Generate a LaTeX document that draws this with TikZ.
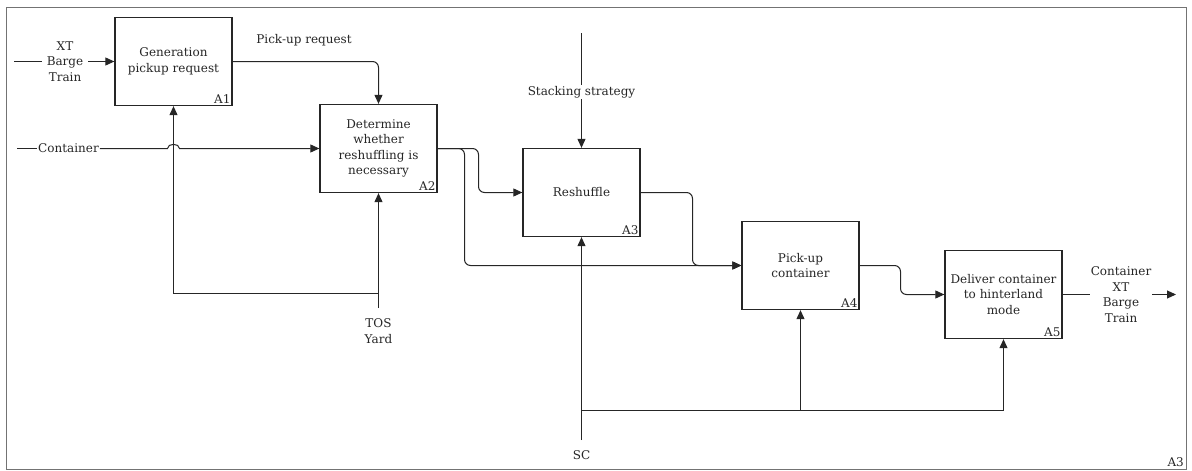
\documentclass[tikz,border=0pt]{standalone}
\usepackage{fontspec}
\setmainfont{DejaVu Serif}
\usetikzlibrary{arrows.meta}
\begin{document}
\begin{tikzpicture}[x=1pt,y=-1pt,
  every node/.style={font=\fontsize{12}{15.5}\selectfont, text=black!85},
  fn/.style={draw=black!85, line width=1.3pt, minimum width=117pt, minimum height=88pt,
             align=center, inner sep=2pt},
  tag/.style={anchor=south east, inner sep=2pt},
  lbl/.style={align=center, inner sep=1pt},
  wire/.style={draw=black!85, line width=1pt},
  flow/.style={wire, -{Triangle[length=9pt,width=8pt]}},
  roundwire/.style={rounded corners=6pt},
]
\useasboundingbox (0,0) rectangle (1192,471);

% outer frame of the diagram
\draw[black!55, line width=0.9pt] (6,7) rectangle (1186,469);
\node[tag] (frametag) at (1186,469) {A3};

% activity boxes
\node[fn] (A1) at (173.5,61.5)  {Generation\\pickup request};
\node[fn] (A2) at (378.5,148.5) {Determine\\whether\\reshuffling is\\necessary};
\node[fn] (A3) at (581.5,192.5) {Reshuffle};
\node[fn] (A4) at (800.5,265.5) {Pick-up\\container};
\node[fn] (A5) at (1003.5,294.5){Deliver container\\to hinterland\\mode};
\node[tag] (t1) at (A1.south east) {A1};
\node[tag] (t2) at (A2.south east) {A2};
\node[tag] (t3) at (A3.south east) {A3};
\node[tag] (t4) at (A4.south east) {A4};
\node[tag] (t5) at (A5.south east) {A5};

% labels of the external flows
\node[lbl, inner xsep=5pt] (xt) at (65,61.5) {XT\\Barge\\Train};
\node[lbl] (cont) at (68.5,148.5) {Container};
\node[lbl] (pur) at (304,40) {Pick-up request};
\node[lbl] (stk) at (581.5,92) {Stacking strategy};
\node[lbl] (tos) at (378.5,331) {TOS\\Yard};
\node[lbl] (sc) at (581.5,455) {SC};
\node[lbl] (out) at (1121,294.5) {Container\\XT\\Barge\\Train};

% free ends and junctions
\coordinate (xin) at (14,61.5);
\coordinate (cin) at (17,148.5);
\coordinate (stkin) at (581.5,33);
\coordinate (tosin) at (378.5,308);
\coordinate (tosj) at (378.5,293.5);
\coordinate (scin) at (581.5,440);
\coordinate (scj) at (581.5,410.5);
\coordinate (scj2) at (800.5,410.5);
\coordinate (xout) at (1176,294.5);
\coordinate (k23) at (478.5,148.5);
\coordinate (k24) at (464.5,148.5);
\coordinate (k34) at (692.5,192.5);
\coordinate (k45) at (900.5,265.5);

% inputs
\draw[wire] (xin) -- (xt.west);
\draw[flow] (xt.east) -- (A1.west);
\draw[wire] (cin) -- (cont.west);
\draw[flow] (cont.east) -- (167.5,148.5) .. controls (167.5,143) and (179.5,143) .. (179.5,148.5) -- (A2.west);

% controls
\draw[wire] (stkin) -- (stk.north);
\draw[flow] (stk.south) -- (A3.north);
\draw[flow, roundwire] (A1.east) -| (A2.north);

% mechanisms
\draw[flow] (tosin) -- (A2.south);
\draw[flow] (tosj) -| (A1.south);
\draw[flow] (scin) -- (A3.south);
\draw[flow] (scj) -| (A5.south);
\draw[flow] (scj2) -- (A4.south);

% flows between activities
\draw[flow, roundwire] (A2.east) -- (k23) |- (A3.west);
\draw[flow, roundwire] (A2.east) -- (k24) |- (A4.west);
\draw[flow, roundwire] (A3.east) -- (k34) |- (A4.west);
\draw[flow, roundwire] (A4.east) -- (k45) |- (A5.west);

% output
\draw[wire] (A5.east) -- (out.west);
\draw[flow] (out.east) -- (xout);
\end{tikzpicture}
\end{document}
